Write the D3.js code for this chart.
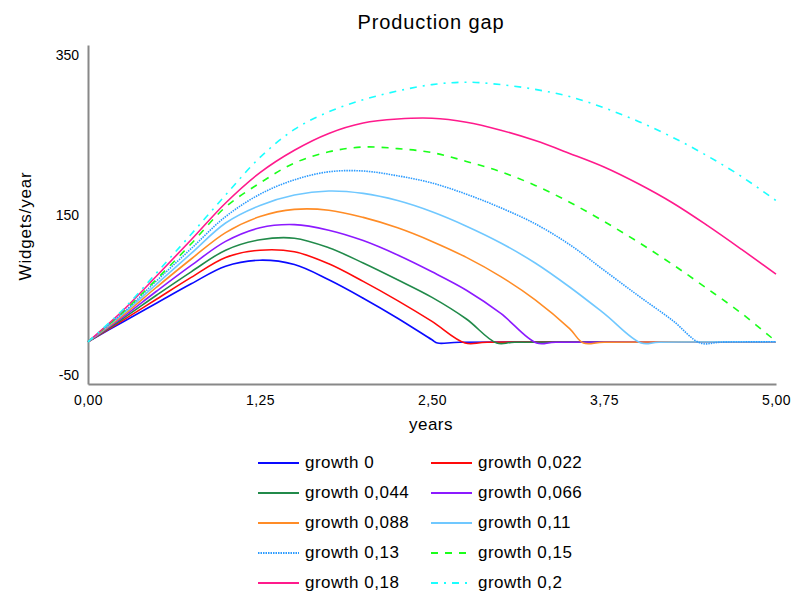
<!DOCTYPE html>
<html><head><meta charset="utf-8">
<script src="https://cdn.jsdelivr.net/npm/d3@7"></script>
<style>body{margin:0;background:#fff}svg{display:block}text{font-family:"Liberation Sans",Arial,sans-serif;fill:#000}</style>
</head><body><svg id="c" width="791" height="591"></svg>
<script>
const title = "Production gap";
const xLabel = "years";
const yLabel = "Widgets/year";
const xTicks = [0, 1.25, 2.5, 3.75, 5];
const yTicks = [350, 150, -50];
const seriesNames = ["growth 0","growth 0,022","growth 0,044","growth 0,066","growth 0,088","growth 0,11","growth 0,13","growth 0,15","growth 0,18","growth 0,2"];

const g0   = [[0,-8.5],[0.25,16],[0.5,40],[0.75,64],[1.0,86],[1.25,93.5],[1.5,88],[1.75,69],[2.0,46],[2.25,21],[2.5,-6],[2.54,-10],[2.7,-9],[5,-8.5]];
const g022 = [[0,-8.5],[0.25,18],[0.5,45],[0.75,72],[1.0,97],[1.25,106],[1.5,104],[1.75,89],[2.0,67],[2.25,43],[2.5,17],[2.74,-10],[2.9,-9],[5,-8.5]];
const g044 = [[0,-8.5],[0.25,20],[0.5,50],[0.75,79],[1.0,106],[1.25,119],[1.5,121],[1.75,109],[2.0,90],[2.25,69],[2.5,47],[2.75,20],[2.97,-10],[3.1,-9],[5,-8.5]];
const g066 = [[0,-8.5],[0.25,22],[0.5,55],[0.75,87],[1.0,117],[1.25,134],[1.5,138],[1.75,131],[2.0,118],[2.25,100],[2.5,79],[2.75,56],[3.0,27],[3.26,-10],[3.4,-9],[5,-8.5]];
const g088 = [[0,-8.5],[0.25,24],[0.5,60],[0.75,95],[1.0,128],[1.25,148],[1.5,157],[1.75,156],[2.0,147],[2.25,134],[2.5,117],[2.75,97],[3.0,73],[3.25,44],[3.5,8],[3.6,-10],[3.75,-9],[5,-8.5]];
const g11  = [[0,-8.5],[0.25,26],[0.5,64],[0.75,102],[1.0,140],[1.25,162],[1.5,175],[1.75,180],[2.0,177],[2.25,168],[2.5,154],[2.75,136],[3.0,115],[3.25,90],[3.5,60],[3.75,27],[4.02,-10],[4.15,-9],[5,-8.5]];
const g13  = [[0,-8.5],[0.25,27],[0.5,68],[0.75,108],[1.0,148],[1.25,176],[1.5,194],[1.75,204],[2.0,205],[2.25,199],[2.5,190],[2.75,176],[3.0,159],[3.25,139],[3.5,113],[3.75,81],[4.0,49],[4.25,18],[4.45,-10],[4.6,-9],[5,-8.5]];
const g15  = [[0,-8.5],[0.25,28],[0.5,70],[0.75,114],[1.0,160],[1.25,190],[1.5,215],[1.75,229],[2.0,235],[2.25,233],[2.5,228],[2.75,217],[3.0,204],[3.25,187],[3.5,166],[3.75,142],[4.0,116],[4.25,88],[4.5,58],[4.75,27],[5.0,-8]];
const g18  = [[0,-8.5],[0.25,30],[0.5,74],[0.75,119],[1.0,165],[1.25,203],[1.5,231],[1.75,252],[2.0,265],[2.25,270],[2.5,271],[2.75,266],[3.0,256],[3.25,243],[3.5,227],[3.75,210],[4.0,189],[4.25,165],[4.5,137],[4.75,107],[5.0,76]];
const g2   = [[0,-8.5],[0.25,31],[0.5,78],[0.75,126],[1.0,175],[1.25,222],[1.5,257],[1.75,279],[2.0,294],[2.25,305],[2.5,313],[2.75,316],[3.0,313],[3.25,307],[3.5,298],[3.75,284],[4.0,267],[4.25,247],[4.5,224],[4.75,198],[5.0,168]];

const seriesData = [g0,g022,g044,g066,g088,g11,g13,g15,g18,g2];
const colors = ["#0a0aff","#ff0a0a","#218a4a","#8c1aff","#ff8c26","#70c8ff","#2b9bff","#1aff1a","#ff1a8c","#1affff"];
const dashes = [null,null,null,null,null,null,"1.5,1","7,7",null,"7,6,2,6"];

const svg = d3.select("#c");
const L = 88, R = 776, T = 45, B = 384;
const x = d3.scaleLinear().domain([0,5]).range([L,R]);
const y = d3.scaleLinear().domain([-61.25,362.5]).range([B,T]);

svg.append("text").attr("x",431).attr("y",29).attr("text-anchor","middle")
  .style("font-size","20px").style("letter-spacing","0.9px").text(title);

// axes
const xa = svg.append("g").attr("transform",`translate(0,${B})`)
  .call(d3.axisBottom(x).tickValues(xTicks).tickSize(0).tickPadding(11)
    .tickFormat(d => d3.format(".2f")(d).replace(".",",")));
xa.select(".domain").attr("stroke","#888").attr("stroke-width",2);
xa.selectAll("text").style("font-size","14px").style("letter-spacing","0.4px").style("font-family","'Liberation Sans',Arial,sans-serif");

const ya = svg.append("g").attr("transform",`translate(${L},0)`)
  .call(d3.axisLeft(y).tickValues(yTicks).tickSize(0).tickPadding(9)
    .tickFormat(d => String(d)));
ya.select(".domain").attr("stroke","#888").attr("stroke-width",2);
ya.selectAll("text").style("font-size","14px").style("font-family","'Liberation Sans',Arial,sans-serif");

svg.append("text").attr("x",431).attr("y",430).attr("text-anchor","middle")
  .style("font-size","17px").style("letter-spacing","0.5px").text(xLabel);
svg.append("text").attr("transform","translate(31,226) rotate(-90)").attr("text-anchor","middle")
  .style("font-size","17px").style("letter-spacing","0.8px").text(yLabel);

const line = d3.line().x(d=>x(d[0])).y(d=>y(d[1])).curve(d3.curveCatmullRom.alpha(0.5));
seriesData.forEach((s,i)=>{
  svg.append("path").datum(s).attr("d",line).attr("fill","none")
    .attr("stroke",colors[i]).attr("stroke-width",1.6)
    .attr("stroke-dasharray",dashes[i]);
});

// legend
const leg = svg.append("g");
seriesNames.forEach((n,i)=>{
  const col = i%2, row = Math.floor(i/2);
  const lx = col===0 ? 258 : 431;
  const ly = 463 + row*30;
  leg.append("line").attr("x1",lx).attr("x2",lx+41).attr("y1",ly).attr("y2",ly)
    .attr("stroke",colors[i]).attr("stroke-width",2).attr("stroke-dasharray",dashes[i]);
  leg.append("text").attr("x",lx+47).attr("y",ly+5).style("font-size","17px")
    .style("letter-spacing","0.5px").text(n);
});
</script></body></html>
